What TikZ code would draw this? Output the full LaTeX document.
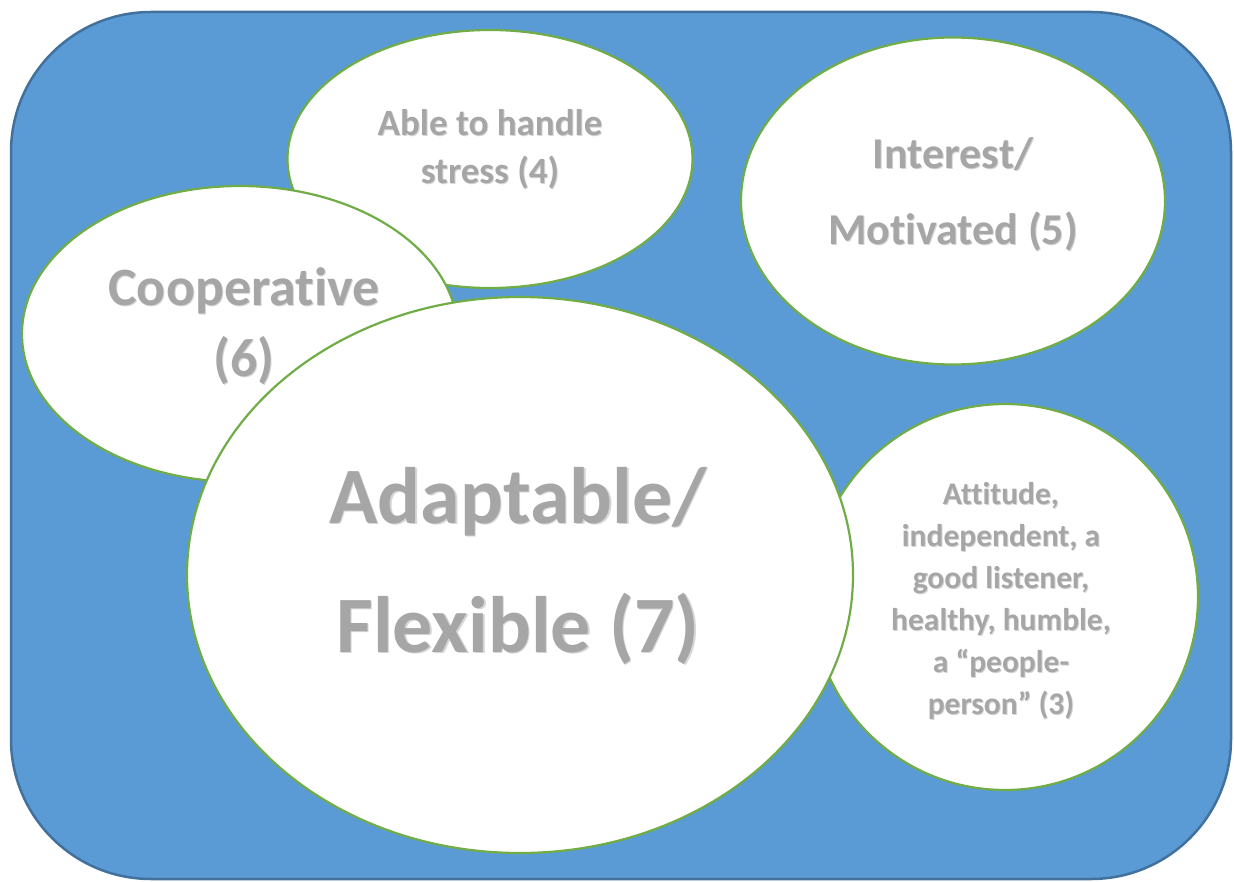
\documentclass[tikz,border=0pt]{standalone}
\usepackage{fontspec}
\setmainfont{Carlito}[Ligatures=NoCommon]
\usetikzlibrary{shapes.geometric}

\definecolor{panelfill}{HTML}{5B9BD5}
\definecolor{panelline}{HTML}{41719C}
\definecolor{bubbleline}{HTML}{70AD47}
\definecolor{labeltext}{HTML}{A6A6A6}
\definecolor{labelshade}{HTML}{8A8A8A}

% centred lines whose reference point is the first baseline
\newcommand{\linesat}[3]{{\fontsize{#1}{#2}\selectfont\bfseries
  \begin{tabular}[t]{@{}c@{}}#3\end{tabular}}}

\tikzset{
  panel/.style={fill=panelfill, draw=panelline, line width=2.5pt, rounded corners=140pt},
  bubble/.style={ellipse, fill=white, draw=bubbleline, line width=2.2pt, inner sep=0pt},
  label/.style={anchor=base, inner sep=0pt, text=labeltext},
  labelshadow/.style={anchor=base, inner sep=0pt, text=labelshade, opacity=0.35},
}

\begin{document}
\begin{tikzpicture}[x=1pt, y=-1pt]
  \useasboundingbox (0,0) rectangle (1234,882);

  % background panel
  \draw[panel] (11,12) rectangle (1231,879);

  % bubbles, back to front
  \node[bubble, minimum width=405pt, minimum height=258pt] (stress) at (490,159) {};
  \node[bubble, minimum width=436pt, minimum height=296pt] (coop) at (240,334) {};
  \node[bubble, minimum width=424pt, minimum height=327pt] (interest) at (953,201) {};
  \node[bubble, minimum width=386pt, minimum height=386pt] (attitude) at (1005,597) {};
  \node[bubble, minimum width=666pt, minimum height=556pt] (adapt) at (520,575) {};

  % labels (a soft shade beneath each one)
  \node[labelshadow] (stressS) at (491,137) {\linesat{37}{48}{Able to handle\\stress (4)}};
  \node[label] (stressT) at (490,136) {\linesat{37}{48}{Able to handle\\stress (4)}};

  \node[labelshadow] (coopS) at (245,307) {\linesat{54}{71}{Cooperative\\(6)}};
  \node[label] (coopT) at (244,306) {\linesat{54}{71}{Cooperative\\(6)}};

  \node[labelshadow] (interestS) at (954,170) {\linesat{44}{76}{Interest/\\Motivated (5)}};
  \node[label] (interestT) at (953,169) {\linesat{44}{76}{Interest/\\Motivated (5)}};

  \node[labelshadow] (attitudeS) at (1002,505) {\linesat{31.5}{42}{Attitude,\\independent, a\\good listener,\\healthy, humble,\\a “people-\\person” (3)}};
  \node[label] (attitudeT) at (1001,504) {\linesat{31.5}{42}{Attitude,\\independent, a\\good listener,\\healthy, humble,\\a “people-\\person” (3)}};

  \node[labelshadow] (adaptS) at (519.5,524.5) {\linesat{80}{129}{Adaptable/\\Flexible (7)}};
  \node[label] (adaptT) at (518,523) {\linesat{80}{129}{Adaptable/\\Flexible (7)}};
\end{tikzpicture}
\end{document}
